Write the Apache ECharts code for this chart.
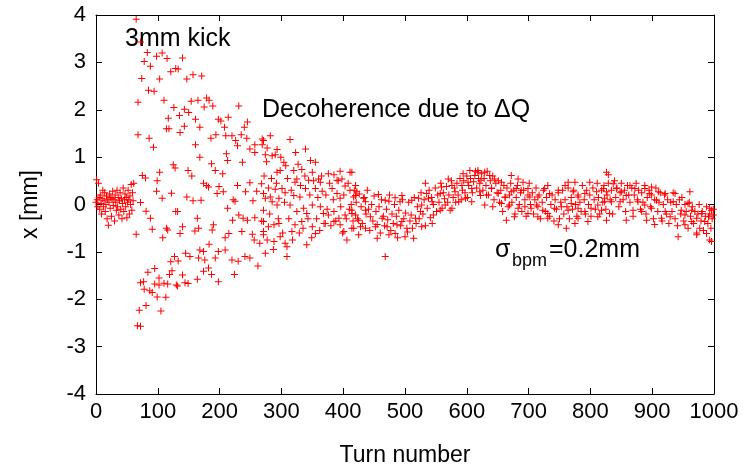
<!DOCTYPE html>
<html><head><meta charset="utf-8">
<script src="https://cdn.jsdelivr.net/npm/echarts@6/dist/echarts.min.js"></script>
<style>html,body{margin:0;padding:0;background:#fff}#c{width:745px;height:472px}</style>
</head><body><div id="c"></div>
<script>
// x tick labels 0..1000 step 100, y tick labels -4..4 step 1
const xTicks = [0,100,200,300,400,500,600,700,800,900,1000];
const yTicks = [-4,-3,-2,-1,0,1,2,3,4];

// turns 0..61 (turn = index), position in mm before kick
const preKickX = [0.05,0.52,0.1,-0.05,0.45,0.15,-0.1,0.2,0.02,-0.2,0.12,0.3,-0.05,0.08,0.25,-0.15,0.0,0.18,-0.3,0.1,-0.44,0.05,0.22,-0.08,0.15,-0.25,0.12,0.28,-0.02,0.1,-0.35,0.2,0.05,-0.12,0.3,-0.05,0.15,-0.22,0.08,0.25,-0.1,0.12,-0.3,0.02,0.35,-0.15,0.1,0.22,-0.05,0.15,-0.28,0.05,0.3,0.1,-0.2,0.18,0.0,0.42,-0.12,0.25,0.08,0.45];

// [turn, x mm] after kick, decoherence phase
const decoPoints = [
[65,3.91],[72,3.43],[83,3.21],[78,3.02],[88,2.92],[98,3.13],[107,3.2],[115,3.08],[74,2.66],[103,2.65],[121,2.8],[85,2.41],[94,2.39],[68,2.16],[110,2.2],[126,2.05],[117,1.82],[114,1.6],[118,1.6],[68,1.47],[86,1.4],[93,1.21],[125,0.84],[75,0.61],[80,0.56],[103,0.68],[99,0.5],[98,0.28],[122,0.24],[107,0.13],[72,0.04],[81,-0.14],[88,-0.29],[114,-0.5],[116,-0.54],[91,-0.52],[65,-0.63],[108,-0.7],[127,-1.1],[121,-1.21],[123,-1.4],[95,-1.35],[84,-1.43],[119,-1.48],[102,-1.55],[72,-1.65],[77,-1.63],[95,-1.68],[102,-1.7],[110,-1.66],[116,-1.68],[78,-1.79],[87,-1.82],[91,-1.86],[99,-1.95],[113,-1.96],[81,-2.13],[70,-2.23],[105,-2.25],[67,-2.56],[72,-2.57],
[129,2.87],[128,0.77],[129,-0.15],[130,-1.7],
[140,3.09],[133,2.86],[147,2.65],[157,2.74],[171,2.71],[154,2.18],[165,2.2],[179,2.25],[183,2.2],[175,2.06],[189,2.08],[231,2.08],[143,2.01],[150,1.94],[135,1.88],[161,1.8],[198,1.8],[202,1.76],[214,1.84],[245,1.74],[143,1.65],[168,1.63],[136,1.52],[240,1.63],[235,1.47],[244,1.4],[208,1.63],[194,1.47],[186,1.4],[210,1.45],[220,1.45],[226,1.35],[229,1.24],[257,1.26],[249,1.17],[257,1.1],[269,1.26],[269,1.38],[161,1.26],[168,1.0],[211,1.07],[213,0.93],[187,0.86],[193,0.72],[205,0.65],[237,0.89],[149,0.72],[155,0.6],[174,0.45],[179,0.4],[182,0.37],[199,0.38],[206,0.27],[196,0.23],[229,0.4],[249,0.46],[268,0.44],[260,0.28],[242,0.27],[271,0.23],[222,0.1],[225,0.07],[147,0.16],[157,0.08],[170,0.09],[132,-0.15],[254,0.08],[213,-0.08],[231,-0.22],[238,-0.29],[245,-0.33],[257,-0.28],[268,-0.35],[221,-0.33],[164,-0.29],[140,-0.47],[136,-0.61],[160,-0.56],[166,-0.5],[188,-0.54],[190,-0.43],[209,-0.7],[215,-0.61],[236,-0.57],[253,-0.63],[256,-0.75],[265,-0.82],[271,-0.57],[183,-0.84],[198,-0.99],[209,-0.96],[193,-1.13],[220,-1.17],[230,-1.2],[241,-1.1],[249,-1.13],[145,-1.03],[152,-1.1],[168,-0.96],[174,-0.99],[166,-1.13],[176,-1.17],[133,-1.19],[262,-1.3],[224,-1.48],[187,-1.48],[198,-1.63],[182,-1.34],[174,-1.41],[140,-1.49],[144,-1.65],[132,-1.72],[164,-1.58],[149,-1.67],
[282,1.45],[271,1.35],[314,1.37],[277,1.19],[293,1.16],[323,1.1],[339,1.17],[274,1.05],[285,1.03],[290,1.05],[304,0.89],[307,0.82],[298,0.72],[293,0.68],[320,0.72],[333,0.74],[347,0.93],[355,0.89],[350,0.68],[376,0.65],[385,0.63],[395,0.7],[411,0.68],[398,0.54],[390,0.51],[325,0.54],[322,0.47],[344,0.51],[360,0.54],[363,0.47],[279,0.35],[290,0.32],[301,0.34],[306,0.25],[320,0.19],[282,0.16],[330,0.16],[339,0.34],[355,0.34],[366,0.28],[382,0.34],[390,0.23],[403,0.39],[411,0.3],[420,0.19],[395,0.13],[274,0.13],[285,0.06],[293,-0.01],[271,-0.12],[296,0.13],[314,-0.01],[325,-0.15],[336,-0.08],[341,-0.19],[350,-0.01],[363,-0.05],[368,-0.19],[376,-0.22],[385,-0.15],[393,-0.29],[403,-0.22],[414,-0.19],[271,-0.36],[279,-0.47],[288,-0.43],[296,-0.4],[271,-0.64],[277,-0.75],[288,-0.78],[298,-0.68],[306,-0.82],[309,-0.89],[322,-0.43],[317,-0.57],[333,-0.36],[350,-0.47],[355,-0.61],[371,-0.4],[385,-0.36],[395,-0.43],[401,-0.57],[417,-0.5],[406,-0.75],[309,-1.1],[341,-0.85],[274,-1.03],
[272,0.6],[276,0.9],[281,-0.2],[284,0.55],[287,-0.95],[292,0.45],[295,-0.3],[299,1.0],[302,-0.6],[305,0.05],[310,0.55],[312,-0.3],[316,0.3],[318,-0.75],[327,0.85],[329,-0.6],[331,0.4],[335,-0.5],[338,0.6],[343,-0.3],[346,0.2],[349,-0.7],[352,0.5],[357,-0.3],[359,0.15],[362,-0.55],[365,0.6],[369,-0.4],[372,0.2],[374,-0.1],[378,0.45],[380,-0.45],[384,0.1],[388,-0.35],[392,0.5],[396,-0.05],[399,-0.6],[401,0.2],[405,-0.3],[408,0.45],[410,-0.1],[413,0.0],[416,-0.35],[418,0.3]
];

// [turn, x mm] residual oscillation after decoherence
const residualPoints = [
[414,0.68],[420,0.4],[422,0.27],[417,0.16],[433,0.13],[436,0.06],[457,0.21],[474,0.07],[484,0.14],[495,0.19],[492,0.06],[468,0.09],[533,0.45],[511,0.09],[522,0.13],[527,-0.01],[538,0.13],[535,0.23],[544,0.06],[557,0.23],[559,0.37],[570,0.54],[576,0.4],[581,0.27],[592,0.4],[594,0.65],[605,0.72],[613,0.61],[618,0.68],[602,0.47],[608,0.34],[565,-0.01],[576,-0.08],[587,0.06],[598,0.13],[608,0.06],[622,0.19],[414,-0.12],[420,-0.22],[425,-0.33],[428,-0.47],[425,-0.64],[414,-0.5],[436,-0.12],[444,-0.26],[436,-0.5],[452,-0.47],[455,-0.71],[463,-0.29],[471,-0.47],[474,-0.64],[484,-0.61],[487,-0.43],[495,-0.36],[503,-0.5],[500,-0.68],[514,-0.71],[517,-0.29],[525,-0.15],[527,-0.47],[544,-0.4],[546,-0.22],[557,-0.12],[468,-1.1],
[618,0.72],[629,0.68],[637,0.61],[623,0.51],[645,0.54],[656,0.47],[672,0.61],[683,0.54],[691,0.47],[621,0.27],[632,0.2],[640,0.34],[651,0.23],[662,0.16],[672,0.27],[680,0.34],[688,0.3],[699,0.34],[702,0.16],[715,0.16],[726,0.34],[734,0.23],[748,0.3],[759,0.4],[764,0.47],[775,0.47],[772,0.27],[780,0.16],[791,0.23],[799,0.47],[810,0.27],[821,0.34],[826,0.68],[823,0.13],
[629,-0.01],[642,-0.05],[656,0.02],[669,-0.01],[683,-0.08],[694,-0.05],[704,-0.08],[713,-0.01],[723,-0.12],[731,-0.19],[742,-0.08],[753,-0.05],[764,-0.12],[769,0.02],[780,-0.08],[791,-0.15],[801,-0.08],[812,-0.01],[818,-0.12],
[664,-0.33],[677,-0.26],[699,-0.19],[715,-0.26],[731,-0.29],[748,-0.43],[761,-0.5],[775,-0.4],[780,-0.29],[796,-0.36],[812,-0.26],[826,-0.33],
[829,0.63],[837,0.44],[826,0.27],[842,0.34],[850,0.27],[864,0.4],[872,0.34],[858,0.19],[848,0.06],[834,0.06],[823,0.06],[831,-0.19],
[888,0.34],[899,0.37],[896,0.23],[910,0.27],[921,0.23],[907,0.09],[888,-0.01],[877,0.06],[869,-0.12],[899,-0.08],[883,-0.15],
[937,0.23],[961,0.27],[934,0.06],[958,0.02],[947,-0.12],[921,-0.15],[929,-0.26],[915,-0.29],[904,-0.42],[891,-0.33],[858,-0.33],
[953,-0.22],[964,-0.12],[972,-0.29],[980,-0.19],[985,-0.36],[993,-0.08],[991,-0.26],[996,-0.12],[999,-0.22],[964,-0.36],[953,-0.43],[977,-0.5],
[942,-0.68],[972,-0.64],[988,-0.61],[993,-0.75],[996,-0.78],
[421,0.05],[423,-0.3],[426,0.22],[429,-0.05],[431,-0.4],[434,0.15],[437,-0.2],[439,0.3],[441,-0.1],[443,-0.55],[446,0.0],[448,-0.35],[450,0.18],[453,-0.15],[455,-0.42],[458,-0.05],[460,-0.6],[462,0.1],[465,-0.25],[467,-0.45],[470,-0.1],[472,-0.32],[475,0.2],[477,-0.55],[479,-0.2],[481,-0.4],[483,0.0],[486,-0.25],[488,-0.7],[490,-0.12],[493,-0.45],[496,0.1],[498,-0.3],[501,-0.18],[504,-0.58],[506,0.05],[508,-0.35],[510,-0.22],[512,-0.5],[515,0.15],[518,-0.4],[520,-0.05],[523,-0.3],[526,0.25],[529,-0.2],[531,0.1],[533,-0.45],[536,-0.08],[539,0.3],[541,-0.28],[543,0.15],[546,0.0],[549,0.35],[551,-0.15],[553,0.2],[555,0.05],[558,0.45],[560,-0.08],[562,0.25],[564,0.12],[567,0.38],[569,0.05],[571,0.2],[573,-0.12],[575,0.5],[578,0.15],[580,0.35],[582,0.05],[584,0.45],[586,0.2],[589,0.55],[591,0.1],[593,0.3],[595,0.5],[597,0.25],[600,0.6],[601,0.15],[603,0.4],[606,0.55],[609,0.25],[611,0.48],[614,0.7],[616,0.35],[619,0.55],[621,0.45],[624,0.65],[626,0.3],[628,0.55],[631,0.4],[633,0.7],[635,0.2],[638,0.5],[640,0.35],[642,0.6],[644,0.1],[647,0.45],[649,0.25],[651,0.5],[653,0.05],[655,0.3],[658,-0.15],[660,0.4],[662,0.15],[665,0.35],[667,-0.05],[669,0.2],[671,0.45],[673,0.05],[676,0.3],[678,-0.2],[680,0.15],[682,0.4],[685,0.0],[687,0.25],[689,-0.15],[692,0.3],[694,0.1],[696,-0.25],[699,0.2],[701,0.45],[703,0.0],[706,0.25],[708,-0.2],[710,0.1],[712,0.35],[715,-0.05],[717,0.2],[719,-0.3],[722,0.05],[724,0.3],[727,-0.15],[729,0.15],[731,0.4],[734,-0.25],[736,0.0],[738,0.2],[741,-0.35],[743,0.1],[745,-0.1],[748,0.25],[750,-0.3],[752,0.05],[755,0.3],[757,-0.2],[759,0.1],[762,-0.05],[764,0.35],[766,-0.3],[769,0.15],[771,-0.1],[773,0.3],[776,0.0],[778,-0.25],[780,0.2],[783,0.05],[785,-0.15],[787,0.4],[790,0.1],[792,-0.2],[794,0.3],[797,0.0],[799,0.2],[801,-0.25],[804,0.35],[806,0.1],[808,-0.1],[811,0.45],[813,0.15],[815,-0.2],[818,0.3],[820,0.05],[822,0.4],[825,-0.1],[827,0.2],[829,0.45],[832,0.1],[834,0.3],[836,-0.2],[839,0.5],[841,0.15],[843,0.35],[846,-0.05],[848,0.25],[850,0.45],[853,0.1],[855,0.3],[857,-0.15],[860,0.4],[862,0.2],[864,0.05],[867,0.35],[869,-0.25],[871,0.2],[874,0.45],[876,0.1],[878,0.3],[881,-0.1],[883,0.25],[885,0.05],[888,0.4],[890,-0.2],[892,0.15],[895,0.3],[897,-0.05],[899,0.2],[902,-0.3],[904,0.1],[906,0.35],[909,-0.15],[911,0.05],[913,0.25],[916,-0.35],[918,0.0],[920,0.2],[923,-0.2],[925,0.1],[927,-0.4],[930,0.05],[932,-0.15],[934,0.25],[937,-0.3],[939,0.0],[941,-0.45],[944,0.1],[946,-0.2],[948,0.15],[951,-0.35],[953,0.0],[955,-0.15],[958,-0.5],[960,0.05],[962,-0.25],[965,-0.05],[967,-0.4],[969,-0.15],[972,-0.6],[974,-0.2],[976,0.0],[979,-0.35],[981,-0.15],[983,-0.55],[986,-0.25],[988,-0.05],[990,-0.4],[993,-0.2],[995,-0.5],[997,-0.3],[999,-0.1]
];

const FONT = '"Liberation Sans", Arial, Helvetica, sans-serif';
const plusSymbol = 'path://M3,0H4V3H7V4H4V7H3V4H0V3H3Z';
const chart = echarts.init(document.getElementById('c'), null, {renderer:'canvas'});

function scatterSeries(data){
  return {type:'scatter', data:data, symbol:plusSymbol, symbolSize:7,
    itemStyle:{color:'#ff0000', opacity:1}, silent:true, animation:false,
    xAxisIndex:0, yAxisIndex:0};
}
const plainNum = v => String(v);
const baseAxis = {
  axisLine:{show:true, onZero:false, lineStyle:{color:'#000', width:1}},
  axisTick:{show:true, inside:true, length:6, lineStyle:{color:'#000', width:1}},
  splitLine:{show:false}
};
chart.setOption({
  backgroundColor:'#fff',
  animation:false,
  grid:{left:96, right:31, top:15, bottom:75, containLabel:false},
  xAxis:[
    Object.assign({type:'value', min:xTicks[0], max:xTicks[xTicks.length-1], interval:xTicks[1]-xTicks[0], position:'bottom',
      axisLabel:{fontSize:22, color:'#000', margin:7, fontFamily:FONT, formatter:plainNum},
      name:'Turn number', nameLocation:'middle', nameGap:50,
      nameTextStyle:{fontSize:23, color:'#000', fontFamily:FONT}}, baseAxis),
    Object.assign({type:'value', min:xTicks[0], max:xTicks[xTicks.length-1], interval:xTicks[1]-xTicks[0], position:'top',
      axisLabel:{show:false}}, baseAxis)
  ],
  yAxis:[
    Object.assign({type:'value', min:yTicks[0], max:yTicks[yTicks.length-1], interval:yTicks[1]-yTicks[0], position:'left',
      axisLabel:{fontSize:22, color:'#000', margin:10, fontFamily:FONT, formatter:plainNum},
      name:'x [mm]', nameLocation:'middle', nameGap:54, nameRotate:90,
      nameTextStyle:{fontSize:23, color:'#000', fontFamily:FONT}}, baseAxis),
    Object.assign({type:'value', min:yTicks[0], max:yTicks[yTicks.length-1], interval:yTicks[1]-yTicks[0], position:'right',
      axisLabel:{show:false}}, baseAxis)
  ],
  graphic:[
    {type:'text', x:125, y:39, silent:true, style:{text:'3mm kick', fontSize:25, fontFamily:FONT, fill:'#000', align:'left', verticalAlign:'middle'}},
    {type:'text', x:262, y:110, silent:true, style:{text:'Decoherence due to \u0394Q', fontSize:25, fontFamily:FONT, fill:'#000', align:'left', verticalAlign:'middle'}},
    {type:'text', x:495, y:250, silent:true, style:{text:'\u03c3', fontSize:25, fontFamily:FONT, fill:'#000', align:'left', verticalAlign:'middle'}},
    {type:'text', x:512, y:261, silent:true, style:{text:'bpm', fontSize:18, fontFamily:FONT, fill:'#000', align:'left', verticalAlign:'middle'}},
    {type:'text', x:549, y:250, silent:true, style:{text:'=0.2mm', fontSize:25, fontFamily:FONT, fill:'#000', align:'left', verticalAlign:'middle'}}
  ],
  series:[
    scatterSeries(preKickX.map((v,i)=>[i,v])),
    scatterSeries(decoPoints),
    scatterSeries(residualPoints)
  ]
});
</script></body></html>
